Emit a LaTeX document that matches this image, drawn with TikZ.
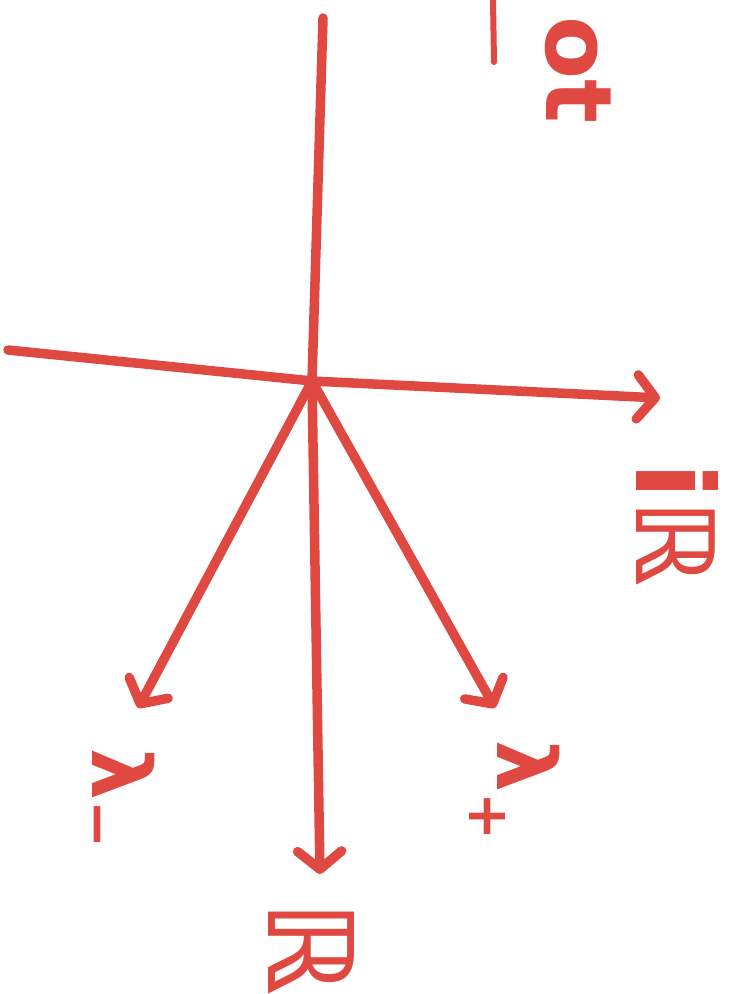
\documentclass[tikz,border=0pt]{standalone}
\usepackage{fontspec}
\setmainfont{DejaVu Sans}
\usetikzlibrary{arrows.meta}
\definecolor{marker}{RGB}{224,72,66}
\tikzset{
  >={Straight Barb[length=18pt,width=44pt,round]},
  stroke/.style={draw=marker,line width=9.5pt,line cap=round,line join=round},
  axis/.style={stroke,->},
  hand/.style={text=marker,rotate=-90,anchor=base west,inner sep=0pt,
    font=\fontsize{#1}{#1}\selectfont\bfseries},
  hand/.default=100,
}
\begin{document}
\begin{tikzpicture}[x=1pt,y=-1pt]
  \useasboundingbox (0,0) rectangle (732,994);
  % axes and eigen directions
  \coordinate (O) at (312,381);
  \coordinate (top) at (323,18);
  \coordinate (left) at (8,350);
  \coordinate (re) at (660,398);
  \coordinate (im) at (320,874);
  \coordinate (lm) at (138,708);
  \coordinate (lp) at (495,708);
  \draw[stroke] (top) -- (O);
  \draw[axis] (left) -- (O) -- (re);
  \draw[axis] (O) -- (im);
  \draw[axis] (O) -- (lm);
  \draw[axis] (O) -- (lp);
  % labels
  \node[hand=108] (reL) at (636,462) {iℝ};
  \node[hand=118] (imL) at (268,900) {ℝ};
  \node[hand=82] (lmL) at (92,748) {λ\textsubscript{−}};
  \node[hand=82] (lpL) at (497,740) {λ\textsubscript{+}};
  \node[hand=92] (note) at (546,16) {ot};
  \draw[stroke,line width=6pt] (493,0) -- (494,62);
\end{tikzpicture}
\end{document}
